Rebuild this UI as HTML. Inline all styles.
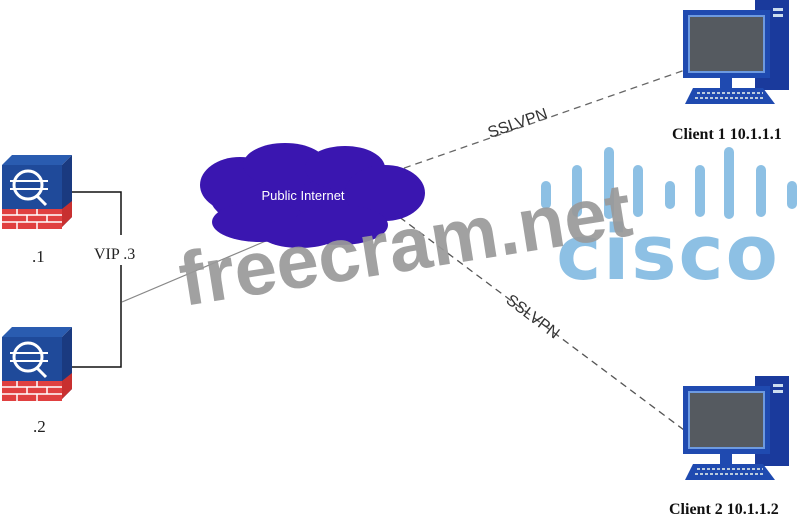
<!DOCTYPE html>
<html><head><meta charset="utf-8"><style>
html,body{margin:0;padding:0;background:#fff;width:803px;height:518px;overflow:hidden}
svg{display:block}
</style></head><body>
<svg width="803" height="518" viewBox="0 0 803 518" xmlns="http://www.w3.org/2000/svg">
<defs>
<g id="fw">
  <polygon points="0,10 10,0 70,0 60,10" fill="#2a5cb0"/>
  <polygon points="60,10 70,0 70,62 60,72" fill="#1a3a80"/>
  <rect x="0" y="10" width="60" height="44" fill="#1f4a9a"/>
  <rect x="0" y="54" width="60" height="20" fill="#e04040"/>
  <polygon points="60,54 70,46 70,62 60,72" fill="#c83030"/>
  <g stroke="#fff" stroke-width="1.5" fill="none">
    <line x1="0" y1="60" x2="60" y2="60"/><line x1="0" y1="67" x2="60" y2="67"/>
    <line x1="15" y1="54" x2="15" y2="60"/><line x1="35" y1="54" x2="35" y2="60"/>
    <line x1="25" y1="60" x2="25" y2="67"/><line x1="45" y1="60" x2="45" y2="67"/>
    <line x1="15" y1="67" x2="15" y2="74"/><line x1="35" y1="67" x2="35" y2="74"/>
    <circle cx="26" cy="30" r="14" stroke-width="3"/>
    <line x1="35" y1="41" x2="44" y2="50" stroke-width="3"/>
    <line x1="8" y1="26" x2="46" y2="26" stroke-width="2"/>
    <line x1="8" y1="34" x2="46" y2="34" stroke-width="2"/>
  </g>
</g>
<g id="pc">
  <rect x="72" y="0" width="34" height="90" fill="#1a3a9c"/>
  <rect x="90" y="8" width="10" height="3" fill="#cde"/>
  <rect x="90" y="14" width="10" height="3" fill="#cde"/>
  <rect x="0" y="10" width="87" height="68" fill="#1f4ab0"/>
  <rect x="5" y="15" width="77" height="58" fill="#6d9ae0"/>
  <rect x="7" y="17" width="73" height="54" fill="#555a60"/>
  <rect x="37" y="78" width="12" height="10" fill="#1f4ab0"/>
  <polygon points="10,88 80,88 92,104 2,104" fill="#1f4ab0"/>
  <line x1="14" y1="93" x2="80" y2="93" stroke="#bcd" stroke-width="2" stroke-dasharray="3,2"/>
  <line x1="12" y1="98" x2="82" y2="98" stroke="#bcd" stroke-width="2" stroke-dasharray="3,2"/>
</g>
</defs>

<use href="#fw" x="2" y="155"/>
<use href="#fw" x="2" y="327"/>
<text x="32" y="262" font-family="Liberation Serif" font-size="17" fill="#222">.1</text>
<text x="33" y="432" font-family="Liberation Serif" font-size="17" fill="#222">.2</text>

<polyline points="72,192 121,192 121,235" fill="none" stroke="#111" stroke-width="1.5"/>
<polyline points="121,265 121,367 72,367" fill="none" stroke="#111" stroke-width="1.5"/>
<text x="94" y="259" font-family="Liberation Serif" font-size="16" fill="#222">VIP .3</text>
<line x1="122" y1="302" x2="280" y2="235" stroke="#888" stroke-width="1.2"/>

<line x1="370" y1="180" x2="685" y2="70" stroke="#666" stroke-width="1.3" stroke-dasharray="7,5"/>
<line x1="390" y1="210" x2="700" y2="442" stroke="#555" stroke-width="1.3" stroke-dasharray="7,5"/>
<text transform="translate(490,138) rotate(-19)" font-family="Liberation Sans" font-size="16" fill="#333">SSLVPN</text>
<text transform="translate(505,302) rotate(37)" font-family="Liberation Sans" font-size="16" fill="#333">SSLVPN</text>

<g fill="#3a16b0">
  <ellipse cx="305" cy="197" rx="95" ry="38"/>
  <ellipse cx="240" cy="185" rx="40" ry="28"/>
  <ellipse cx="285" cy="165" rx="42" ry="22"/>
  <ellipse cx="345" cy="168" rx="40" ry="22"/>
  <ellipse cx="385" cy="193" rx="40" ry="28"/>
  <ellipse cx="260" cy="222" rx="48" ry="20"/>
  <ellipse cx="340" cy="225" rx="48" ry="20"/>
  <ellipse cx="300" cy="233" rx="40" ry="15"/>
</g>
<text x="303" y="200" text-anchor="middle" font-family="Liberation Sans" font-size="13" fill="#fff">Public Internet</text>

<g stroke="#7ab6e0" stroke-width="10" stroke-linecap="round" opacity="0.85">
  <line x1="546" y1="186" x2="546" y2="204"/>
  <line x1="577" y1="170" x2="577" y2="212"/>
  <line x1="609" y1="152" x2="609" y2="214"/>
  <line x1="638" y1="170" x2="638" y2="212"/>
  <line x1="670" y1="186" x2="670" y2="204"/>
  <line x1="700" y1="170" x2="700" y2="212"/>
  <line x1="729" y1="152" x2="729" y2="214"/>
  <line x1="761" y1="170" x2="761" y2="212"/>
  <line x1="792" y1="186" x2="792" y2="204"/>
</g>
<text x="668" y="279" text-anchor="middle" font-family="DejaVu Sans" font-weight="bold" font-size="76" fill="#7ab6e0" opacity="0.85" letter-spacing="2">cisco</text>

<text transform="translate(184,306) rotate(-9)" font-family="Liberation Sans" font-weight="bold" font-size="76" fill="#9a9a9a" opacity="0.92">freecram.net</text>

<use href="#pc" x="683" y="0"/>
<use href="#pc" x="683" y="376"/>
<text x="672" y="139" font-family="Liberation Serif" font-weight="bold" font-size="16" fill="#111">Client 1 10.1.1.1</text>
<text x="669" y="514" font-family="Liberation Serif" font-weight="bold" font-size="16" fill="#111">Client 2 10.1.1.2</text>
</svg>
</body></html>
